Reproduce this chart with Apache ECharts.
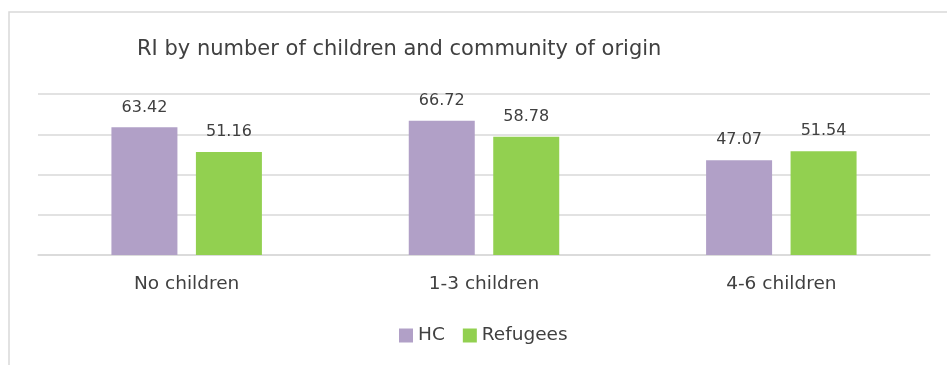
<!DOCTYPE html>
<html>
<head>
<meta charset="utf-8">
<script src="https://cdn.jsdelivr.net/npm/echarts@6/dist/echarts.min.js"></script>
<style>
  html, body { margin: 0; padding: 0; background: #fff; }
  #chart { width: 947px; height: 365px; }
</style>
</head>
<body>
<div id="chart"></div>
<script>
// Categories and series values
const categories = ['No children', '1-3 children', '4-6 children'];
const hcValues = [63.42, 66.72, 47.07];
const refugeeValues = [51.16, 58.78, 51.54];
const seriesNames = ['HC', 'Refugees'];

const FONT = 'DejaVu Sans';
const TEXT = '#404040';

const valueLabel = {
  show: true,
  position: 'top',
  distance: 12,
  fontFamily: FONT,
  fontSize: 16,
  color: TEXT,
  formatter: p => p.value.toFixed(2)
};

const chart = echarts.init(document.getElementById('chart'));
chart.setOption({
  animation: false,
  backgroundColor: '#fff',
  title: {
    text: 'RI by number of children and community of origin',
    left: 132,
    top: 34,
    textStyle: { fontFamily: FONT, fontSize: 21, fontWeight: 'normal', color: TEXT }
  },
  graphic: [{
    type: 'rect',
    shape: { x: 9, y: 12, width: 960, height: 380 },
    style: { fill: 'none', stroke: '#d9d9d9', lineWidth: 1.5 },
    silent: true
  }],
  legend: {
    data: seriesNames,
    left: 399,
    top: 326,
    padding: 0,
    itemWidth: 14,
    itemHeight: 14,
    itemGap: 18,
    icon: 'rect',
    textStyle: { fontFamily: FONT, fontSize: 18.5, color: TEXT }
  },
  grid: { left: 38, right: 17, top: 94, bottom: 110, containLabel: false },
  xAxis: {
    type: 'category',
    data: categories,
    axisLine: { lineStyle: { color: '#d9d9d9', width: 1.5 } },
    axisTick: { show: false },
    axisLabel: { fontFamily: FONT, fontSize: 18.5, color: TEXT, margin: 20 }
  },
  yAxis: {
    type: 'value',
    min: 0,
    max: 80,
    interval: 20,
    axisLabel: { show: false },
    axisLine: { show: false },
    axisTick: { show: false },
    splitLine: { lineStyle: { color: '#d9d9d9', width: 1.5 } }
  },
  series: [
    {
      name: seriesNames[0],
      type: 'bar',
      data: hcValues,
      barWidth: 66,
      barGap: '28%',
      itemStyle: { color: '#b1a0c7' },
      label: valueLabel
    },
    {
      name: seriesNames[1],
      type: 'bar',
      data: refugeeValues,
      barWidth: 66,
      itemStyle: { color: '#92d050' },
      label: valueLabel
    }
  ]
});
</script>
</body>
</html>
